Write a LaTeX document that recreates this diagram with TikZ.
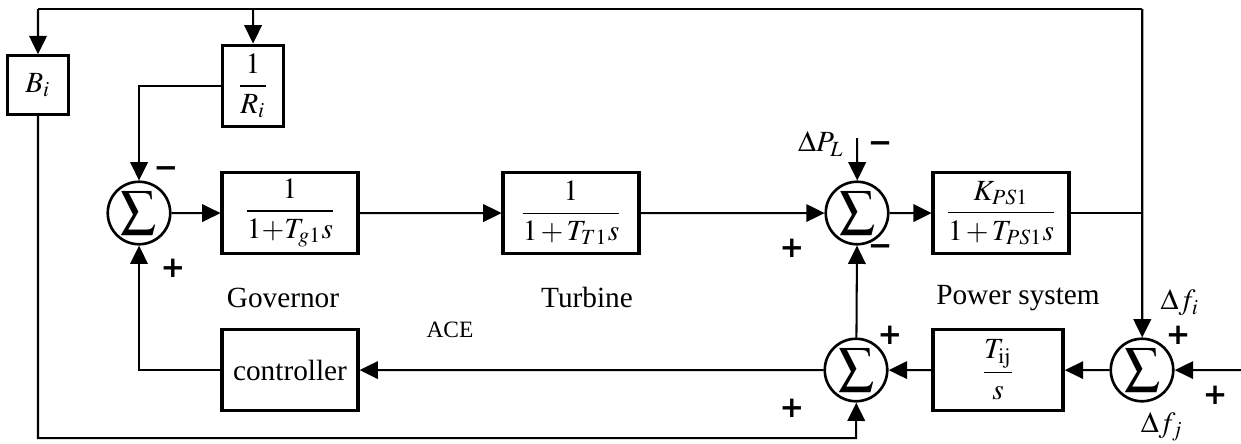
\documentclass[tikz,border=0pt]{standalone}
\usepackage{amsmath}
\usepackage{mathptmx}
\usepackage[no-math]{fontspec}
\setmainfont{Liberation Serif}
\newfontfamily\signfont{DejaVu Sans}
\usetikzlibrary{arrows.meta,positioning}
\tikzset{
  blk/.style={draw,line width=1.1pt,minimum width=1.63cm,minimum height=0.97cm,inner sep=1pt},
  sumnode/.style={draw,circle,line width=0.9pt,minimum size=0.75cm,inner sep=0pt,
    label={[font=\large,inner sep=0pt]center:$\displaystyle\sum$}},
  sgn/.style={font=\signfont\bfseries,inner sep=0pt},
  sig/.style={-{Triangle[length=2.2mm,width=2.1mm]},line width=0.7pt}
}

\begin{document}
\begin{tikzpicture}[scale=1.2]
  \useasboundingbox (0,0) rectangle (12.41,-4.43);
  % forward path
  \node[sumnode] (sum1) at (1.39,-2.13) {};
  \node[blk] (gov) at (2.90,-2.13) {$\dfrac{1}{1{+}T_{g1}s}$};
  \node[blk] (tur) at (5.71,-2.13) {$\dfrac{1}{1\,{+}\,T_{T1}s}$};
  \node[sumnode] (sum2) at (8.57,-2.13) {};
  \node[blk] (ps) at (10.01,-2.13) {$\dfrac{K_{PS1}}{1\,{+}\,T_{PS1}s}$};
  % tie-line and control path
  \node[sumnode] (sum4) at (11.42,-3.70) {};
  \node[blk,minimum width=1.56cm] (tij) at (9.98,-3.70) {$\dfrac{T_{\mathrm{ij}}}{s}$};
  \node[sumnode] (sum3) at (8.56,-3.70) {};
  \node[blk] (ctrl) at (2.90,-3.70) {controller};
  % feedback gains
  \node[blk,minimum width=0.73cm,minimum height=0.70cm] (B) at (0.38,-0.85) {$B_i$};
  \node[blk,minimum width=0.73cm,minimum height=0.98cm] (R) at (2.53,-0.86) {$\dfrac{1}{R_i}$};

  \coordinate (tl) at (0.38,-0.09);
  \coordinate (tr) at (11.42,-0.09);
  \coordinate (bot) at (8.56,-4.38);
  \coordinate (pl) at (8.57,-1.38);
  \coordinate (fin) at (12.41,-3.70);

  \draw[sig] (sum1) -- (gov);
  \draw[sig] (gov) -- (tur);
  \draw[sig] (tur) -- (sum2);
  \draw[sig] (sum2) -- (ps);
  \draw[line width=0.7pt] (ps.east) -- (ps.east -| tr);
  \draw[sig] (tr) -- (sum4);
  \draw[line width=0.7pt] (tr) -- (tl);
  \draw[sig] (tl) -- (B);
  \draw[sig] (R.north |- tr) -- (R);
  \draw[sig] (R.west) -| (sum1);
  \draw[sig] (ctrl.west) -| (sum1);
  \draw[sig] (B) |- (bot) -- (sum3);
  \draw[sig] (sum3) -- (sum2);
  \draw[sig] (sum3) -- (ctrl);
  \draw[sig] (tij) -- (sum3);
  \draw[sig] (sum4) -- (tij);
  \draw[sig] (fin) -- (sum4);
  \draw[sig] (pl) -- (sum2);

  % labels
  \node at (2.83,-2.98) {Governor};
  \node at (5.87,-2.97) {Turbine};
  \node[font=\footnotesize] at (4.50,-3.30) {ACE};
  \node at (10.18,-2.98) {Power system};
  \node[left=1pt of pl,yshift=-2pt] (dpl) {$\Delta P_L$};
  \node (dfi) at (11.80,-3.03) {$\Delta f_i$};
  \node (dfj) at (11.62,-4.27) {$\Delta f_j$};

  % signs
  \node[sgn] at (1.66,-1.72) {−};
  \node[sgn] at (1.73,-2.68) {+};
  \node[sgn] at (8.80,-1.47) {−};
  \node[sgn] at (7.92,-2.48) {+};
  \node[sgn] at (8.80,-2.50) {−};
  \node[sgn] at (8.90,-3.35) {+};
  \node[sgn] at (7.92,-4.08) {+};
  \node[sgn] at (11.78,-3.35) {+};
  \node[sgn] at (12.15,-3.95) {+};
\end{tikzpicture}
\end{document}
